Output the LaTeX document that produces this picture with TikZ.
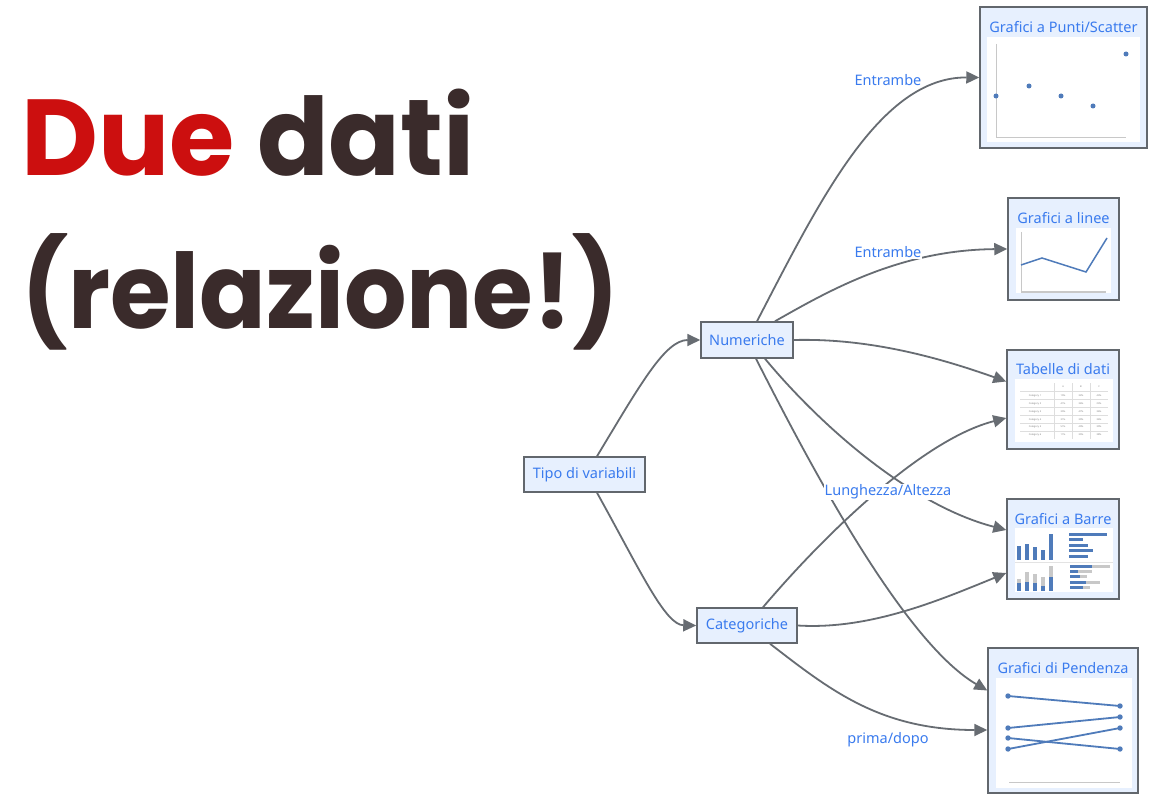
\documentclass[tikz,border=0pt]{standalone}
\usepackage{fontspec}
\setmainfont{Noto Sans}
\newfontfamily\titlefont{Poppins}
\usetikzlibrary{arrows.meta, positioning}
\definecolor{duered}{HTML}{CC0F0F}
\definecolor{duebrown}{HTML}{3A2B2B}
\definecolor{nodeblue}{HTML}{3A7BEE}
\definecolor{boxfill}{HTML}{E7F0FE}
\definecolor{boxline}{HTML}{62676D}
\definecolor{edgegray}{HTML}{676C72}
\definecolor{chartblue}{HTML}{4F7BBA}
\definecolor{chartgray}{HTML}{C8C8C8}

\begin{document}
\begin{tikzpicture}[
    x=1pt, y=-1pt,
    font=\fontsize{14.5}{17}\selectfont,
    box/.style={
      draw=boxline, line width=1.5pt, fill=boxfill,
      text=nodeblue, inner sep=0pt, minimum height=35pt
    },
    chart/.style={draw=boxline, line width=1.5pt, fill=boxfill, inner sep=0pt},
    ctitle/.style={text=nodeblue, inner sep=0pt},
    lbl/.style={text=nodeblue, fill=white, inner sep=1pt},
    tiny/.style={text=gray, font=\fontsize{2.4}{3}\selectfont, inner sep=0pt},
    arr/.style={-{Triangle[length=13pt,width=12pt]}, edgegray, line width=1.8pt}
  ]
  \useasboundingbox (0,0) rectangle (1155,799);
  \fill[white] (0,0) rectangle (1155,799);

  \node[anchor=base west, inner sep=0pt, text=duebrown,
        font=\titlefont\bfseries\fontsize{108}{120}\selectfont] (title1) at (21,176)
        {\scalebox{0.98}[1]{\textcolor{duered}{Due} dati}};
  \node[anchor=base west, inner sep=0pt, text=duebrown,
        font=\titlefont\bfseries\fontsize{104}{120}\selectfont] (title2) at (21,328)
        {\scalebox{0.945}[1]{(relazione!)}};

  \node[box, minimum width=121pt] (tipo) at (584.5,474.5) {Tipo di variabili};
  \node[box, minimum width=92pt, minimum height=36pt] (num) at (747,340) {Numeriche};
  \node[box, minimum width=100pt] (cat) at (747,625.5) {Categoriche};

  \node[chart, minimum width=167pt, minimum height=141pt] (scatter) at (1063.5,77.5) {};
  \node[chart, minimum width=111pt, minimum height=102pt] (linee) at (1063.5,249) {};
  \node[chart, minimum width=112pt, minimum height=99pt] (tab) at (1063,399.5) {};
  \node[chart, minimum width=112pt, minimum height=100pt] (barre) at (1063,549) {};
  \node[chart, minimum width=150pt, minimum height=145pt] (pend) at (1063,720.5) {};

  \node[ctitle, below=14.5pt of scatter.north] (scattertit) {Grafici a Punti/Scatter};
  \node[ctitle, below=14.5pt of linee.north] (lineetit) {Grafici a linee};
  \node[ctitle, below=14.5pt of tab.north] (tabtit) {Tabelle di dati};
  \node[ctitle, below=14.5pt of barre.north] (barretit) {Grafici a Barre};
  \node[ctitle, below=14.5pt of pend.north] (pendtit) {Grafici di Pendenza};

  % scatter
  \fill[white] (987,37) rectangle (1140,142);
  \draw[chartgray, line width=1pt] (996,44) -- (996,138) -- (1126,138);
  \foreach \x/\y in {996/96,1029/86,1061/96,1093/106,1126/54}
    \fill[chartblue] (\x,\y) circle (2.5);

  % linee
  \fill[white] (1016,228) rectangle (1111,293);
  \draw[chartgray, line width=1pt] (1021,232) -- (1021,292) -- (1106,292);
  \draw[chartblue, line width=1.5pt] (1021,265) -- (1042,258) -- (1086,272) -- (1107,238);

  % tabelle
  \fill[white] (1015,379) rectangle (1113,442);
  \foreach \x in {1054,1072,1090}
    \draw[chartgray!60, line width=0.4pt] (\x,383) -- (\x,439);
  \foreach \y in {391,399.5,407.5,415.5,423,431}
    \draw[chartgray!60, line width=0.4pt] (1020,\y) -- (1108,\y);
  \node[tiny] (ha) at (1063,387) {A};
  \node[tiny] (hb) at (1081,387) {B};
  \node[tiny] (hc) at (1099,387) {C};
  \foreach \i/\y/\a/\b/\c in {1/395.5/15\%/32\%/43\%, 2/403.5/41\%/36\%/23\%,
      3/411.5/35\%/47\%/36\%, 4/419.5/31\%/39\%/36\%, 5/427/51\%/40\%/39\%,
      6/435/11\%/35\%/38\%} {
    \node[tiny] at (1035,\y) {Category \i};
    \node[tiny] at (1063,\y) {\a};
    \node[tiny] at (1081,\y) {\b};
    \node[tiny] at (1099,\y) {\c};
  }

  % barre
  \fill[white] (1015,528) rectangle (1113,592);
  \draw[chartgray!50, line width=0.6pt] (1015,562.5) -- (1113,562.5);
  \foreach \x/\t in {1019/546,1027/544,1035/547,1043/550,1051/534}
    \fill[chartblue] (\x-2,\t) rectangle (\x+2,560);
  \foreach \y/\l in {534/1107,539.5/1083,545/1088,550.5/1093,556/1088}
    \fill[chartblue] (1069,\y-1.5) rectangle (\l,\y+1.5);
  \foreach \x/\b/\g in {1019/583/579,1027/582/572,1035/583/574,1043/586/577,1051/577/566} {
    \fill[chartgray] (\x-2,\g) rectangle (\x+2,\b);
    \fill[chartblue] (\x-2,\b) rectangle (\x+2,591);
  }
  \foreach \y/\b/\g in {566/1092/1110,571/1078/1092,576.5/1080/1087,582/1086/1100,587/1083/1090} {
    \fill[chartgray] (1070,\y-1.5) rectangle (\g,\y+1.5);
    \fill[chartblue] (1070,\y-1.5) rectangle (\b,\y+1.5);
  }

  % pendenza
  \fill[white] (996,678) rectangle (1132,788);
  \draw[chartgray, line width=1pt] (1009,782) -- (1120,782);
  \foreach \a/\b in {696/706,728/717,738/749,749/728} {
    \draw[chartblue, line width=1.8pt] (1008,\a) -- (1120,\b);
    \fill[chartblue] (1008,\a) circle (2.7);
    \fill[chartblue] (1120,\b) circle (2.7);
  }

  \draw[arr] ([xshift=12.5pt]tipo.north) .. controls (640,385) and (665,340) .. (num.west);
  \draw[arr] ([xshift=12.5pt]tipo.south) .. controls (640,570) and (665,625) .. (cat.west);
  \draw[arr] ([xshift=10pt]num.north) .. controls (820,200) and (880,77) .. (scatter.west);
  \draw[arr] ([xshift=28pt]num.north) .. controls (830,290) and (900,250) .. (linee.west);
  \draw[arr] (num.east) .. controls (870,338) and (940,358) .. ([yshift=18pt]tab.west);
  \draw[arr] ([xshift=18pt]num.south) .. controls (820,425) and (910,505) .. ([yshift=19pt]barre.west);
  \draw[arr] ([xshift=9pt]num.south) .. controls (800,445) and (900,640) .. ([yshift=30pt]pend.west);
  \draw[arr] ([xshift=16pt]cat.north) .. controls (820,540) and (920,440) .. ([yshift=-18.5pt]tab.west);
  \draw[arr] (cat.east) .. controls (870,630) and (940,600) .. ([yshift=-24pt]barre.west);
  \draw[arr] ([xshift=23pt]cat.south) .. controls (830,690) and (880,730) .. ([yshift=-9.5pt]pend.west);

  \node[lbl] (entr1) at (888,80) {Entrambe};
  \node[lbl] (entr2) at (888,252) {Entrambe};
  \node[lbl] (lung) at (888,492) {Lunghezza/Altezza};
  \node[lbl] (prima) at (888,740) {prima/dopo};
\end{tikzpicture}
\end{document}
